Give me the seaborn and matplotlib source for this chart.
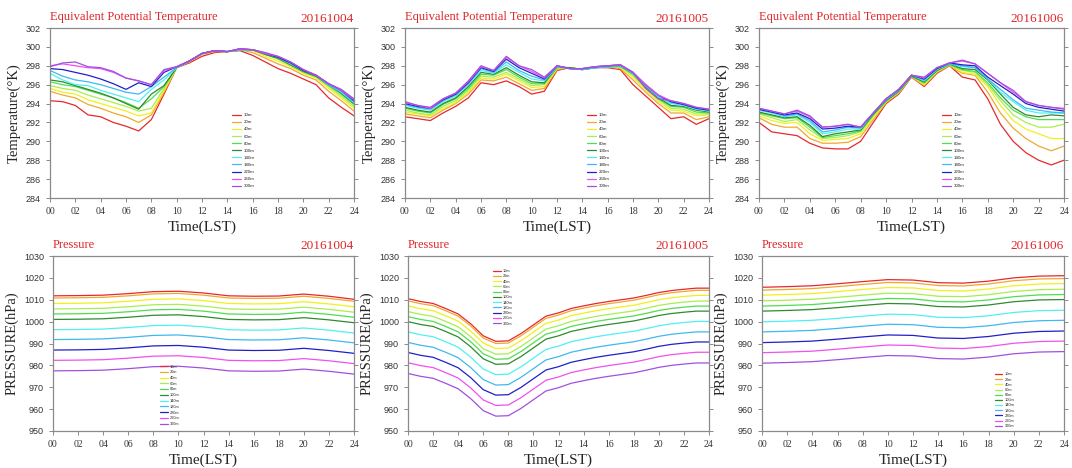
import numpy as np
import pandas as pd
import matplotlib
matplotlib.use("Agg")
import matplotlib.pyplot as plt
import seaborn as sns

# tower levels and line colours
heights = ['10m', '20m', '40m', '60m', '80m', '100m', '140m', '180m', '220m', '260m', '300m']
line_colors = ['#e8282b', '#f0a830', '#f0f020', '#a8ee50', '#50dd50', '#2e8b2e',
               '#50f0f0', '#40b8f0', '#2020c8', '#f050f0', '#a050e0']
dates = ['20161004', '20161005', '20161006']
hours = list(range(25))
hours_2h = list(range(0, 25, 2))

# Equivalent potential temperature (K), hourly, one row per level
theta_1004 = [
    [294.3, 294.2, 293.8, 292.8, 292.6, 292.0, 291.6, 291.1, 292.3, 295.0, 297.8, 298.3, 299.0, 299.4, 299.5, 299.6, 299.1, 298.4, 297.7, 297.2, 296.6, 296.0, 294.6, 293.6, 292.7],
    [295.3, 294.9, 294.6, 293.9, 293.5, 293.0, 292.6, 292.0, 292.8, 295.2, 297.8, 298.4, 299.2, 299.5, 299.5, 299.7, 299.4, 298.8, 298.2, 297.7, 297.0, 296.5, 295.3, 294.3, 293.2],
    [295.6, 295.2, 295.0, 294.4, 294.0, 293.6, 293.2, 292.7, 293.0, 295.4, 297.8, 298.5, 299.3, 299.6, 299.5, 299.7, 299.6, 299.0, 298.5, 297.9, 297.2, 296.7, 295.6, 294.6, 293.5],
    [295.9, 295.6, 295.4, 294.9, 294.5, 294.1, 293.7, 293.2, 293.5, 295.6, 297.8, 298.5, 299.3, 299.6, 299.5, 299.7, 299.7, 299.2, 298.7, 298.0, 297.3, 296.8, 295.8, 294.8, 293.7],
    [296.3, 296.0, 295.8, 295.4, 295.0, 294.6, 294.1, 293.5, 294.5, 295.8, 297.8, 298.5, 299.3, 299.6, 299.5, 299.7, 299.7, 299.2, 298.8, 298.1, 297.4, 296.9, 295.9, 295.0, 293.9],
    [296.5, 296.3, 295.9, 295.5, 295.1, 294.6, 294.0, 293.4, 295.0, 295.9, 297.8, 298.5, 299.3, 299.6, 299.5, 299.7, 299.7, 299.2, 298.8, 298.1, 297.4, 296.9, 296.0, 295.1, 294.0],
    [297.2, 296.5, 296.0, 295.9, 295.4, 295.0, 294.6, 294.2, 295.5, 296.5, 297.8, 298.5, 299.3, 299.6, 299.5, 299.7, 299.7, 299.3, 298.9, 298.2, 297.5, 297.0, 296.0, 295.2, 294.1],
    [297.5, 296.9, 296.5, 296.3, 296.0, 295.6, 295.2, 295.0, 295.8, 296.8, 297.8, 298.5, 299.3, 299.6, 299.5, 299.7, 299.7, 299.3, 298.9, 298.3, 297.5, 297.0, 296.0, 295.3, 294.2],
    [297.7, 297.6, 297.3, 297.0, 296.6, 296.1, 295.5, 296.2, 295.8, 297.3, 297.9, 298.5, 299.3, 299.6, 299.5, 299.8, 299.7, 299.3, 298.9, 298.3, 297.5, 297.0, 296.1, 295.4, 294.3],
    [298.0, 298.2, 298.0, 297.8, 297.7, 297.3, 296.7, 296.4, 296.0, 297.5, 297.9, 298.5, 299.3, 299.6, 299.5, 299.8, 299.7, 299.3, 299.0, 298.4, 297.6, 297.0, 296.1, 295.4, 294.4],
    [297.9, 298.3, 298.4, 297.9, 297.8, 297.4, 296.7, 296.4, 296.0, 297.6, 297.9, 298.5, 299.3, 299.6, 299.5, 299.8, 299.7, 299.4, 299.0, 298.4, 297.6, 297.0, 296.1, 295.5, 294.5],
]
theta_1005 = [
    [292.6, 292.4, 292.2, 293.0, 293.7, 294.6, 296.2, 296.0, 296.4, 295.8, 295.0, 295.3, 297.5, 297.8, 297.6, 297.8, 297.8, 297.6, 296.0, 294.8, 293.6, 292.4, 292.6, 291.8, 292.4],
    [292.9, 292.7, 292.5, 293.3, 294.0, 295.0, 296.5, 296.4, 296.8, 296.1, 295.4, 295.6, 297.6, 297.8, 297.6, 297.8, 297.9, 297.7, 296.5, 295.2, 294.0, 293.0, 293.0, 292.3, 292.6],
    [293.1, 292.9, 292.7, 293.5, 294.1, 295.2, 296.7, 296.6, 297.1, 296.4, 295.7, 295.8, 297.7, 297.8, 297.6, 297.8, 297.9, 297.8, 296.8, 295.4, 294.2, 293.3, 293.2, 292.7, 292.8],
    [293.3, 293.0, 292.8, 293.7, 294.3, 295.4, 296.9, 296.8, 297.3, 296.6, 295.9, 296.0, 297.8, 297.8, 297.6, 297.8, 297.9, 297.9, 297.0, 295.6, 294.4, 293.5, 293.4, 292.9, 292.9],
    [293.5, 293.2, 293.0, 293.9, 294.5, 295.6, 297.1, 297.0, 297.6, 296.8, 296.1, 296.1, 297.8, 297.8, 297.6, 297.8, 297.9, 297.9, 297.1, 295.7, 294.5, 293.7, 293.6, 293.1, 293.0],
    [293.6, 293.3, 293.1, 294.0, 294.6, 295.8, 297.3, 297.1, 297.8, 297.0, 296.3, 296.2, 297.9, 297.8, 297.6, 297.8, 297.9, 298.0, 297.2, 295.8, 294.6, 293.8, 293.7, 293.3, 293.1],
    [293.8, 293.5, 293.3, 294.2, 294.8, 296.0, 297.5, 297.2, 298.1, 297.3, 296.6, 296.4, 297.9, 297.7, 297.6, 297.8, 297.9, 298.0, 297.2, 295.9, 294.7, 294.0, 293.8, 293.4, 293.2],
    [293.9, 293.6, 293.4, 294.3, 294.9, 296.1, 297.7, 297.3, 298.4, 297.5, 296.9, 296.5, 297.9, 297.7, 297.6, 297.8, 297.9, 298.0, 297.2, 295.9, 294.8, 294.1, 293.9, 293.5, 293.3],
    [294.0, 293.7, 293.5, 294.4, 295.0, 296.2, 297.8, 297.4, 298.7, 297.8, 297.2, 296.6, 298.0, 297.7, 297.7, 297.9, 298.0, 298.1, 297.3, 296.0, 294.9, 294.2, 293.9, 293.5, 293.3],
    [294.1, 293.8, 293.5, 294.5, 295.1, 296.3, 297.9, 297.5, 298.9, 298.0, 297.4, 296.7, 298.0, 297.7, 297.7, 297.9, 298.0, 298.1, 297.3, 296.0, 294.9, 294.3, 294.0, 293.6, 293.4],
    [294.2, 293.8, 293.6, 294.5, 295.1, 296.4, 298.0, 297.5, 299.0, 298.0, 297.6, 296.8, 298.0, 297.7, 297.7, 297.9, 298.0, 298.1, 297.3, 295.6, 294.5, 294.3, 294.0, 293.6, 293.4],
]
theta_1006 = [
    [292.0, 291.0, 290.8, 290.6, 289.8, 289.3, 289.2, 289.2, 290.0, 292.0, 294.0, 295.0, 296.8, 295.8, 297.2, 298.0, 296.8, 296.5, 294.5, 291.8, 290.0, 288.8, 288.0, 287.5, 288.0],
    [292.5, 291.8, 291.5, 291.5, 290.3, 289.8, 289.8, 289.9, 290.5, 292.3, 294.1, 295.1, 296.8, 295.9, 297.3, 298.0, 297.2, 297.0, 295.2, 293.0, 291.4, 290.3, 289.5, 289.0, 289.5],
    [292.7, 292.2, 291.9, 292.0, 290.8, 290.1, 290.2, 290.3, 290.8, 292.5, 294.2, 295.2, 296.9, 296.0, 297.4, 298.1, 297.3, 297.1, 295.8, 293.8, 292.2, 291.3, 290.8, 290.3, 290.3],
    [292.9, 292.5, 292.1, 292.3, 291.2, 290.3, 290.4, 290.6, 291.0, 292.7, 294.2, 295.2, 296.9, 296.1, 297.4, 298.1, 297.5, 297.3, 296.0, 294.3, 292.8, 292.0, 291.5, 291.5, 291.8],
    [293.0, 292.7, 292.4, 292.5, 291.5, 290.4, 290.6, 290.8, 291.1, 292.8, 294.3, 295.3, 296.9, 296.2, 297.5, 298.1, 297.6, 297.4, 296.2, 294.6, 293.3, 292.6, 292.3, 292.3, 292.3],
    [293.1, 292.8, 292.5, 292.6, 291.7, 290.5, 290.8, 291.0, 291.2, 292.9, 294.3, 295.3, 296.9, 296.3, 297.5, 298.2, 297.7, 297.6, 296.5, 295.0, 293.6, 292.8, 292.6, 292.8, 292.7],
    [293.3, 293.0, 292.6, 292.8, 292.0, 290.8, 291.0, 291.3, 291.3, 293.0, 294.4, 295.4, 297.0, 296.4, 297.6, 298.2, 297.9, 297.8, 296.6, 295.2, 294.2, 293.3, 293.0, 293.0, 293.0],
    [293.3, 293.1, 292.7, 292.9, 292.2, 291.0, 291.2, 291.5, 291.4, 293.0, 294.4, 295.4, 297.0, 296.5, 297.7, 298.2, 298.0, 297.8, 296.6, 295.5, 294.4, 293.5, 293.3, 293.1, 293.0],
    [293.4, 293.1, 292.8, 293.0, 292.4, 291.3, 291.4, 291.6, 291.5, 293.0, 294.5, 295.5, 297.0, 296.6, 297.7, 298.3, 298.1, 298.0, 296.8, 295.9, 295.0, 294.0, 293.6, 293.4, 293.2],
    [293.5, 293.2, 292.9, 293.2, 292.6, 291.5, 291.6, 291.8, 291.5, 293.0, 294.5, 295.5, 297.0, 296.7, 297.8, 298.3, 298.5, 298.2, 297.2, 296.2, 295.2, 294.2, 293.8, 293.6, 293.5],
    [293.5, 293.2, 292.9, 293.3, 292.7, 291.5, 291.6, 291.8, 291.5, 293.0, 294.5, 295.5, 297.0, 296.8, 297.8, 298.3, 298.6, 298.2, 297.2, 296.2, 295.4, 294.2, 293.8, 293.6, 293.4],
]

# Pressure (hPa), one row per level
pres_1004 = [  # every 2 hours
    [1011.8, 1011.9, 1012.1, 1012.8, 1013.7, 1013.9, 1013.1, 1011.8, 1011.6, 1011.7, 1012.6, 1011.6, 1010.2],
    [1010.8, 1010.9, 1011.1, 1011.8, 1012.7, 1012.9, 1012.1, 1010.8, 1010.6, 1010.7, 1011.6, 1010.6, 1009.3],
    [1008.3, 1008.4, 1008.6, 1009.3, 1010.2, 1010.4, 1009.6, 1008.3, 1008.1, 1008.2, 1009.1, 1008.1, 1006.8],
    [1005.8, 1005.9, 1006.1, 1006.8, 1007.7, 1007.9, 1007.1, 1005.8, 1005.6, 1005.7, 1006.6, 1005.6, 1004.3],
    [1003.5, 1003.6, 1003.8, 1004.5, 1005.4, 1005.6, 1004.8, 1003.5, 1003.3, 1003.4, 1004.3, 1003.3, 1002.0],
    [1001.0, 1001.1, 1001.3, 1002.0, 1002.9, 1003.1, 1002.3, 1001.0, 1000.8, 1000.9, 1001.8, 1000.8, 999.5],
    [996.3, 996.4, 996.6, 997.3, 998.2, 998.4, 997.6, 996.3, 996.1, 996.2, 997.1, 996.1, 994.8],
    [991.8, 991.9, 992.1, 992.8, 993.7, 993.9, 993.1, 991.8, 991.6, 991.7, 992.6, 991.6, 990.3],
    [987.0, 987.1, 987.3, 988.0, 988.9, 989.1, 988.3, 987.0, 986.8, 986.9, 987.8, 986.8, 985.5],
    [982.3, 982.4, 982.6, 983.3, 984.2, 984.4, 983.6, 982.3, 982.1, 982.2, 983.1, 982.1, 980.8],
    [977.5, 977.6, 977.8, 978.5, 979.4, 979.6, 978.8, 977.5, 977.3, 977.4, 978.3, 977.3, 976.0],
]
pres_1005 = [  # hourly
    [1010.5, 1009.2, 1008.3, 1006.0, 1003.5, 999.0, 993.5, 991.0, 991.2, 994.5, 998.5, 1002.5, 1004.0, 1006.0, 1007.2, 1008.3, 1009.2, 1010.0, 1010.8, 1012.0, 1013.3, 1014.2, 1014.8, 1015.3, 1015.3],
    [1009.5, 1008.2, 1007.3, 1005.0, 1002.5, 998.0, 992.5, 990.0, 990.2, 993.5, 997.5, 1001.5, 1003.0, 1005.0, 1006.2, 1007.3, 1008.2, 1009.0, 1009.8, 1011.0, 1012.3, 1013.2, 1013.8, 1014.3, 1014.3],
    [1007.2, 1005.9, 1005.0, 1002.7, 1000.2, 995.7, 990.2, 987.7, 987.9, 991.2, 995.2, 999.2, 1000.7, 1002.7, 1003.9, 1005.0, 1005.9, 1006.7, 1007.5, 1008.7, 1010.0, 1010.9, 1011.5, 1012.0, 1012.0],
    [1004.6, 1003.3, 1002.4, 1000.1, 997.6, 993.1, 987.6, 985.1, 985.3, 988.6, 992.6, 996.6, 998.1, 1000.1, 1001.3, 1002.4, 1003.3, 1004.1, 1004.9, 1006.1, 1007.4, 1008.3, 1008.9, 1009.4, 1009.4],
    [1002.3, 1001.0, 1000.1, 997.8, 995.3, 990.8, 985.3, 982.8, 983.0, 986.3, 990.3, 994.3, 995.8, 997.8, 999.0, 1000.1, 1001.0, 1001.8, 1002.6, 1003.8, 1005.1, 1006.0, 1006.6, 1007.1, 1007.1],
    [1000.0, 998.7, 997.8, 995.5, 993.0, 988.5, 983.0, 980.5, 980.7, 984.0, 988.0, 992.0, 993.5, 995.5, 996.7, 997.8, 998.7, 999.5, 1000.3, 1001.5, 1002.8, 1003.7, 1004.3, 1004.8, 1004.8],
    [995.3, 994.0, 993.1, 990.8, 988.3, 983.8, 978.3, 975.8, 976.0, 979.3, 983.3, 987.3, 988.8, 990.8, 992.0, 993.1, 994.0, 994.8, 995.6, 996.8, 998.1, 999.0, 999.6, 1000.1, 1000.1],
    [990.5, 989.2, 988.3, 986.0, 983.5, 979.0, 973.5, 971.0, 971.2, 974.5, 978.5, 982.5, 984.0, 986.0, 987.2, 988.3, 989.2, 990.0, 990.8, 992.0, 993.3, 994.2, 994.8, 995.3, 995.3],
    [985.9, 984.6, 983.7, 981.4, 978.9, 974.4, 968.9, 966.4, 966.6, 969.9, 973.9, 977.9, 979.4, 981.4, 982.6, 983.7, 984.6, 985.4, 986.2, 987.4, 988.7, 989.6, 990.2, 990.7, 990.7],
    [981.2, 979.9, 979.0, 976.7, 974.2, 969.7, 964.2, 961.7, 961.9, 965.2, 969.2, 973.2, 974.7, 976.7, 977.9, 979.0, 979.9, 980.7, 981.5, 982.7, 984.0, 984.9, 985.5, 986.0, 986.0],
    [976.3, 975.0, 974.1, 971.8, 969.3, 964.8, 959.3, 956.8, 957.0, 960.3, 964.3, 968.3, 969.8, 971.8, 973.0, 974.1, 975.0, 975.8, 976.6, 977.8, 979.1, 980.0, 980.6, 981.1, 981.1],
]
pres_1006 = [  # every 2 hours
    [1015.7, 1016.0, 1016.4, 1017.3, 1018.3, 1019.2, 1019.0, 1017.8, 1017.6, 1018.5, 1020.0, 1020.8, 1021.0],
    [1014.4, 1014.7, 1015.1, 1016.0, 1017.0, 1017.9, 1017.7, 1016.5, 1016.3, 1017.2, 1018.7, 1019.5, 1019.7],
    [1012.1, 1012.4, 1012.8, 1013.7, 1014.7, 1015.6, 1015.4, 1014.2, 1014.0, 1014.9, 1016.4, 1017.2, 1017.4],
    [1009.5, 1009.8, 1010.2, 1011.1, 1012.1, 1013.0, 1012.8, 1011.6, 1011.4, 1012.3, 1013.8, 1014.6, 1014.8],
    [1007.1, 1007.4, 1007.8, 1008.7, 1009.7, 1010.6, 1010.4, 1009.2, 1009.0, 1009.9, 1011.4, 1012.2, 1012.4],
    [1004.8, 1005.1, 1005.5, 1006.4, 1007.4, 1008.3, 1008.1, 1006.9, 1006.7, 1007.6, 1009.1, 1009.9, 1010.1],
    [999.9, 1000.2, 1000.6, 1001.5, 1002.5, 1003.4, 1003.2, 1002.0, 1001.8, 1002.7, 1004.2, 1005.0, 1005.2],
    [995.3, 995.6, 996.0, 996.9, 997.9, 998.8, 998.6, 997.4, 997.2, 998.1, 999.6, 1000.4, 1000.6],
    [990.4, 990.7, 991.1, 992.0, 993.0, 993.9, 993.7, 992.5, 992.3, 993.2, 994.7, 995.5, 995.7],
    [985.8, 986.1, 986.5, 987.4, 988.4, 989.3, 989.1, 987.9, 987.7, 988.6, 990.1, 990.9, 991.1],
    [981.0, 981.3, 981.7, 982.6, 983.6, 984.5, 984.3, 983.1, 982.9, 983.8, 985.3, 986.1, 986.3],
]


def to_frame(hrs, rows):
    recs = []
    for name, vals in zip(heights, rows):
        for h, v in zip(hrs, vals):
            recs.append({'hour': h, 'value': v, 'height': name})
    return pd.DataFrame(recs)


sns.set_style("ticks")
plt.rcParams['font.family'] = ['Liberation Sans', 'DejaVu Sans']
serif = 'Liberation Serif'
red = '#e0262a'
grey = '#8a8a8a'
palette = dict(zip(heights, line_colors))

fig = plt.figure(figsize=(10.72, 4.68), dpi=100)
W, H = 1072.0, 468.0

# panel boxes in pixels: left, top, right, bottom
top_boxes = [(50, 28, 354, 198), (405, 28, 709, 198), (759, 28, 1064, 198)]
bot_boxes = [(53, 256, 354, 431), (408, 256, 709, 431), (762, 256, 1064, 431)]
# legend anchors (axes fraction) and row spacing
top_leg = [(0.60, 0.50, 0.68), (0.60, 0.50, 0.68), (0.60, 0.50, 0.68)]
bot_leg = [(0.355, 0.38, 0.45), (0.282, 0.925, 0.32), (0.77, 0.335, 0.3)]

panels = [
    (top_boxes[0], hours, theta_1004, dates[0], 'Equivalent Potential Temperature', top_leg[0], 'theta'),
    (top_boxes[1], hours, theta_1005, dates[1], 'Equivalent Potential Temperature', top_leg[1], 'theta'),
    (top_boxes[2], hours, theta_1006, dates[2], 'Equivalent Potential Temperature', top_leg[2], 'theta'),
    (bot_boxes[0], hours_2h, pres_1004, dates[0], 'Pressure', bot_leg[0], 'pres'),
    (bot_boxes[1], hours, pres_1005, dates[1], 'Pressure', bot_leg[1], 'pres'),
    (bot_boxes[2], hours_2h, pres_1006, dates[2], 'Pressure', bot_leg[2], 'pres'),
]

for box, hrs, rows, date, title, leg, kind in panels:
    l, t, r, b = box
    ax = fig.add_axes([l / W, 1 - b / H, (r - l) / W, (b - t) / H])
    df = to_frame(hrs, rows)
    sns.lineplot(data=df, x='hour', y='value', hue='height', hue_order=heights,
                 palette=palette, linewidth=0.9, ax=ax)

    ax.set_xlim(0, 24)
    ax.set_xticks(range(0, 25, 2))
    ax.set_xticklabels([f"{h:02d}" for h in range(0, 25, 2)], family=serif, fontsize=7)
    if kind == 'theta':
        ax.set_ylim(284, 302)
        ax.set_yticks(range(284, 303, 2))
        ax.set_ylabel('Temperature(°K)', family=serif, fontsize=10.5, labelpad=4)
    else:
        ax.set_ylim(950, 1030)
        ax.set_yticks(range(950, 1031, 10))
        ax.set_ylabel('PRESSURE(hPa)', family=serif, fontsize=10.5, labelpad=4)
    ax.set_xlabel('Time(LST)', family=serif, fontsize=11, labelpad=3)
    ax.tick_params(axis='y', labelsize=6.5, labelcolor='#333333')
    ax.tick_params(axis='x', labelcolor='#333333')
    ax.tick_params(direction='out', length=3, width=0.7, color=grey, right=True)
    for s in ax.spines.values():
        s.set_color(grey)
        s.set_linewidth(0.9)

    ax.text(0.0, 1.03, title, transform=ax.transAxes, ha='left', va='bottom',
            family=serif, fontsize=9, color=red)
    ax.text(1.0, 1.02, date, transform=ax.transAxes, ha='right', va='bottom',
            family=serif, fontsize=9.5, color=red)

    handles, labels = ax.get_legend_handles_labels()
    fs = 3.2 if kind == 'theta' else 2.8
    ax.legend(handles, labels, loc='upper left', bbox_to_anchor=(leg[0], leg[1]),
              frameon=False, fontsize=fs, handlelength=2.0, handletextpad=0.6,
              labelspacing=leg[2], borderpad=0, borderaxespad=0)
    for ln in ax.get_legend().get_lines():
        ln.set_linewidth(0.9)

fig.savefig('out.png', dpi=100)
